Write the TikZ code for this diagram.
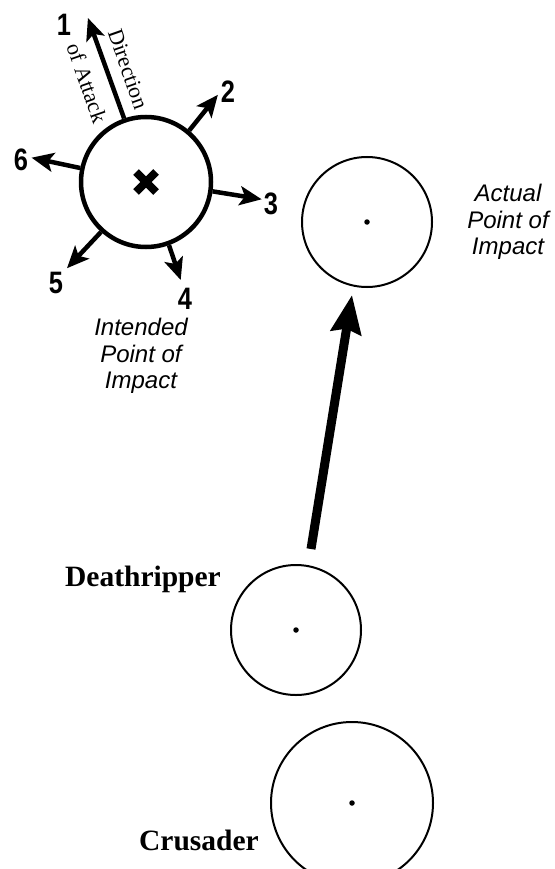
\documentclass[tikz,border=0pt]{standalone}
\usepackage{fontspec}
\setmainfont{Liberation Serif}
\setsansfont{Liberation Sans}
\usetikzlibrary{arrows.meta, calc}

\begin{document}
\begin{tikzpicture}[
  x=1pt, y=1pt,
  base/.style={circle, draw, line width=2pt, minimum size=130pt, inner sep=0pt},
  hub/.style={circle, draw, line width=4.5pt, minimum size=130pt, inner sep=0pt},
  dot/.style={circle, fill, inner sep=0pt, minimum size=5.5pt},
  spoke/.style={line width=4.5pt, -{Stealth[length=22pt, width=19pt, inset=5pt]}},
  push/.style={line width=9pt, -{Stealth[length=38pt, width=30pt, inset=4pt]}},
  cross/.style={line width=8pt},
  num/.style={font=\sffamily\bfseries\fontsize{31}{31}\selectfont, inner sep=0pt},
  note/.style={font=\sffamily\itshape\fontsize{24}{26.5}\selectfont, align=center},
  unit/.style={font=\bfseries\fontsize{29.5}{29.5}\selectfont, inner sep=0pt},
  attack/.style={font=\fontsize{22}{22}\selectfont, inner sep=0pt, rotate=-70.7}
]
  \useasboundingbox (0,0) rectangle (554,-869);

  % intended point of impact
  \node[hub] (hub) at (146,-182) {};
  \draw[cross] ($(hub)+(-10,-10)$) -- ($(hub)+(10,10)$);
  \draw[cross] ($(hub)+(-10,10)$) -- ($(hub)+(10,-10)$);

  \path (hub) ++(109.5:174) coordinate (t1);
  \path (hub) ++(50.5:113) coordinate (t2);
  \path (hub) ++(-8.5:117) coordinate (t3);
  \path (hub) ++(-70.5:104) coordinate (t4);
  \path (hub) ++(-132.5:117) coordinate (t5);
  \path (hub) ++(168:117) coordinate (t6);

  \draw[spoke] (hub.109.5) -- (t1);
  \draw[spoke] (hub.50.5) -- (t2);
  \draw[spoke] (hub.-8.5) -- (t3);
  \draw[spoke] (hub.-70.5) -- (t4);
  \draw[spoke] (hub.-132.5) -- (t5);
  \draw[spoke] (hub.168) -- (t6);

  \node[num] (n1) at (64,-25) {\scalebox{0.82}[1]{1}};
  \node[num] (n2) at (228,-92) {\scalebox{0.82}[1]{2}};
  \node[num] (n3) at (271,-204) {\scalebox{0.82}[1]{3}};
  \node[num] (n4) at (185,-299) {\scalebox{0.82}[1]{4}};
  \node[num] (n5) at (56,-283) {\scalebox{0.82}[1]{5}};
  \node[num] (n6) at (21,-160) {\scalebox{0.82}[1]{6}};

  \node[attack] (dir) at (128,-69) {Direction};
  \node[attack] (atk) at (87,-83) {of Attack};

  \node[note] (intended) at (141,-356) {Intended\\Point of\\Impact};

  % actual point of impact
  \node[base] (actual) at (367,-222) {};
  \node[dot] at (actual) {};
  \node[note] (actualtxt) at (508,-222) {Actual\\Point of\\Impact};

  % the two models
  \node[base] (dr) at (296,-630) {};
  \node[dot] at (dr) {};
  \node[base, minimum size=162pt] (cr) at (352,-803) {};
  \node[dot] at (cr) {};
  \node[unit] (drname) at (143,-579) {Deathripper};
  \node[unit] (crname) at (199,-840) {Crusader};

  \coordinate (launch) at (311,-549);
  \coordinate (impact) at (352,-295);
  \draw[push] (launch) -- (impact);
\end{tikzpicture}
\end{document}
